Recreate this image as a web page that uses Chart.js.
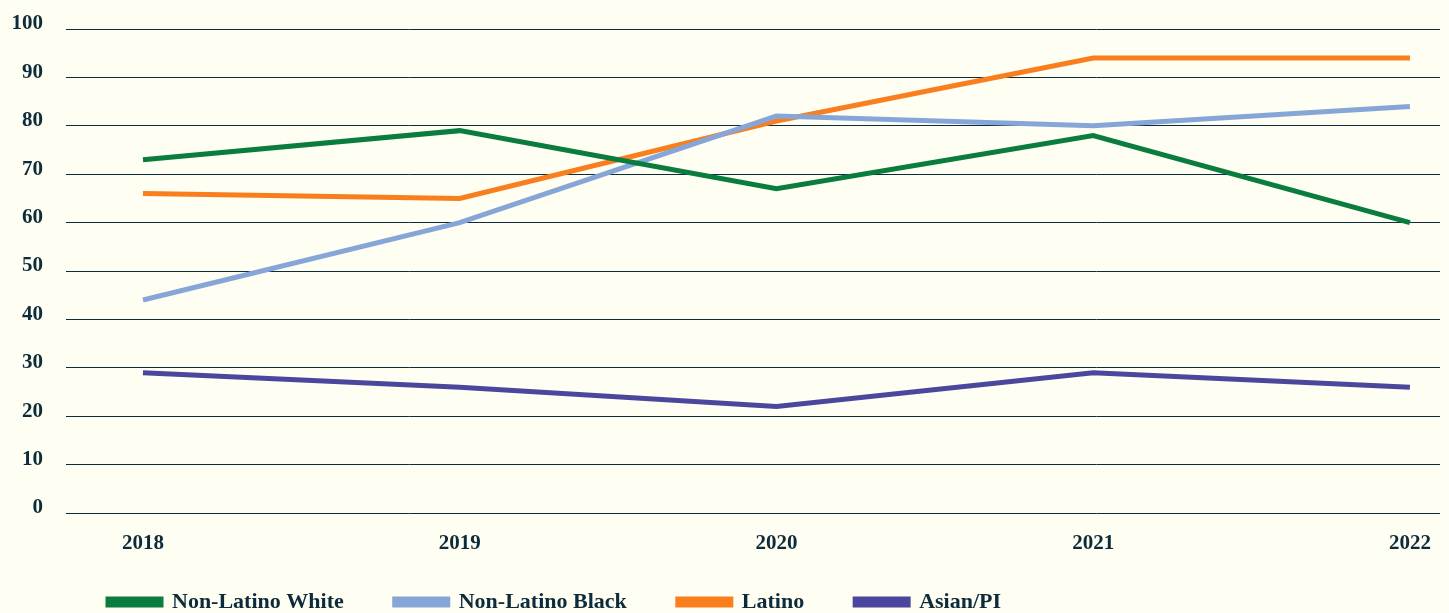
<!DOCTYPE html>
<html>

<head>
    <title>Rates by group, 2018-2022</title>
    <meta charset="utf-8">
    <script src="https://cdn.jsdelivr.net/npm/chart.js@4.4.0/dist/chart.umd.min.js"></script>
    <style>
        body {
            margin: 0;
            background: #fefef2;
        }

        .chartBox {
            width: 1449px;
            height: 613px;
        }
    </style>
</head>

<body>
    <div class="chartBox">
        <canvas id="main-Chart"></canvas>
    </div>
    <script>
        // Data
        const years = [2018, 2019, 2020, 2021, 2022];
        const whiteVals = [73, 79, 67, 78, 60];
        const blackVals = [44, 60, 82, 80, 84];
        const latinoVals = [66, 65, 81, 94, 94];
        const asianVals = [29, 26, 22, 29, 26];
        const yTicks = [0, 10, 20, 30, 40, 50, 60, 70, 80, 90, 100];

        const ink = '#0d2b3b';
        const font = { family: "'Liberation Serif', serif", size: 21, weight: 'bold' };

        function pts(vals) {
            return years.map((y, i) => ({ x: y, y: vals[i] }));
        }

        function series(label, vals, color) {
            return {
                label: label,
                data: pts(vals),
                borderColor: color,
                backgroundColor: color,
                borderWidth: 5,
                borderCapStyle: 'butt',
                pointRadius: 0,
                tension: 0
            };
        }

        // legend sits lower and further left than Chart.js puts it
        const legendNudge = {
            id: 'legendNudge',
            afterLayout(chart) {
                chart.legend.left = 57;
                chart.legend.top = 540;
            }
        };

        new Chart(document.getElementById('main-Chart'), {
            type: 'line',
            data: {
                datasets: [
                    series('Non-Latino White', whiteVals, '#0a7c3e'),
                    series('Non-Latino Black', blackVals, '#87a6d8'),
                    series('Latino', latinoVals, '#f97e1e'),
                    series('Asian/PI', asianVals, '#4a479c')
                ]
            },
            options: {
                responsive: true,
                maintainAspectRatio: false,
                animation: false,
                layout: { padding: { left: 0, right: 9, top: 29, bottom: 0 } },
                plugins: {
                    tooltip: { enabled: false },
                    legend: {
                        position: 'bottom',
                        align: 'start',
                        maxHeight: 57,
                        labels: {
                            color: ink,
                            font: { family: font.family, size: 22, weight: 'bold' },
                            boxWidth: 53,
                            boxHeight: 6,
                            padding: 51
                        }
                    }
                },
                scales: {
                    x: {
                        type: 'linear',
                        min: 2017.757,
                        max: 2022.095,
                        grid: { display: false },
                        border: { display: false },
                        afterBuildTicks: (axis) => { axis.ticks = years.map(v => ({ value: v })); },
                        afterFit: (axis) => { axis.height = 43; },
                        ticks: {
                            color: ink,
                            font: font,
                            padding: 10,
                            maxRotation: 0,
                            callback: (v) => String(v)
                        }
                    },
                    y: {
                        min: 0,
                        max: 100,
                        afterBuildTicks: (axis) => { axis.ticks = yTicks.map(v => ({ value: v })); },
                        afterFit: (axis) => {
                            axis.width = 66;
                            axis.paddingTop = 0;
                            axis.paddingBottom = 0;
                        },
                        grid: { color: ink, lineWidth: 1, drawTicks: false },
                        border: { display: false },
                        ticks: {
                            color: ink,
                            font: font,
                            padding: 23,
                            labelOffset: -5
                        }
                    }
                }
            },
            plugins: [legendNudge]
        });
    </script>
</body>

</html>
